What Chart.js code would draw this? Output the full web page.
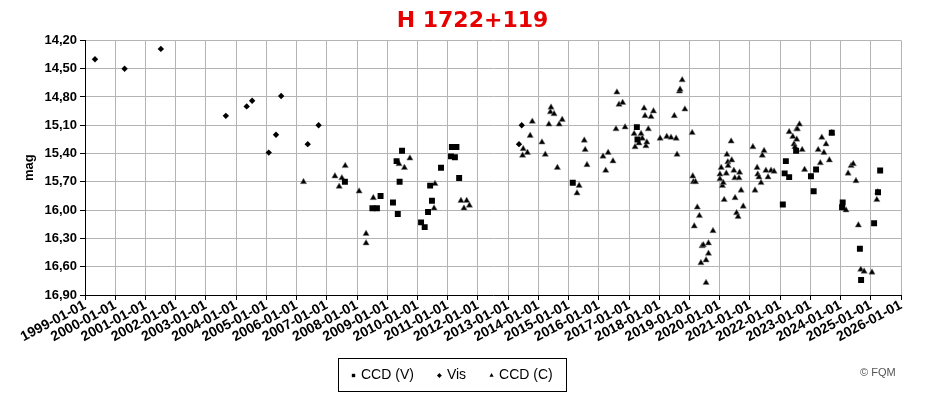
<!DOCTYPE html>
<html>
<head>
<meta charset="utf-8">
<script src="https://cdn.jsdelivr.net/npm/chart.js@4.4.1/dist/chart.umd.min.js"></script>
<style>
  html, body { margin: 0; padding: 0; background: #fff; }
  #wrap { width: 930px; height: 396px; }
</style>
</head>
<body>
<div id="wrap"><canvas id="lightCurve" width="930" height="396"></canvas></div>
<script>
// H 1722+119 — curva de luz (ano decimal, magnitude)
const YEARS = [1999, 2000, 2001, 2002, 2003, 2004, 2005, 2006, 2007, 2008, 2009, 2010, 2011, 2012,
  2013, 2014, 2015, 2016, 2017, 2018, 2019, 2020, 2021, 2022, 2023, 2024, 2025, 2026];
const MAG_TICKS = [14.2, 14.5, 14.8, 15.1, 15.4, 15.7, 16.0, 16.3, 16.6, 16.9];

const CCD_V = [
  [2007.60, 15.70], [2008.51, 15.98], [2008.66, 15.98], [2008.78, 15.85], [2009.19, 15.92],
  [2009.31, 15.48], [2009.35, 16.04], [2009.41, 15.70], [2009.49, 15.37], [2010.12, 16.13],
  [2010.24, 16.18], [2010.35, 16.02], [2010.42, 15.74], [2010.48, 15.90], [2010.78, 15.55],
  [2011.11, 15.43], [2011.14, 15.33], [2011.24, 15.44], [2011.29, 15.33], [2011.38, 15.66],
  [2015.14, 15.71], [2017.26, 15.12], [2017.28, 15.25], [2022.09, 15.94], [2022.15, 15.61],
  [2022.19, 15.48], [2022.30, 15.65], [2022.53, 15.37], [2023.02, 15.64], [2023.11, 15.80],
  [2023.19, 15.57], [2023.71, 15.18], [2024.05, 15.97], [2024.07, 15.92], [2024.64, 16.41],
  [2024.68, 16.74], [2025.11, 16.14], [2025.24, 15.81], [2025.31, 15.58]
];

const VIS = [
  [1999.33, 14.40], [2000.31, 14.50], [2001.51, 14.29], [2003.66, 15.00], [2004.35, 14.90],
  [2004.53, 14.84], [2005.08, 15.39], [2005.32, 15.20], [2005.49, 14.79], [2006.37, 15.30],
  [2006.73, 15.10], [2013.36, 15.30], [2013.45, 15.10]
];

const CCD_C = [
  [2006.23, 15.70], [2007.27, 15.64], [2007.41, 15.75], [2007.50, 15.66], [2007.61, 15.53],
  [2008.07, 15.80], [2008.30, 16.25], [2008.30, 16.35], [2008.54, 15.87], [2009.39, 15.51],
  [2009.57, 15.55], [2009.75, 15.45], [2010.55, 15.98], [2010.58, 15.72], [2011.44, 15.90],
  [2011.54, 15.98], [2011.63, 15.90], [2011.72, 15.95],
  [2013.48, 15.42], [2013.50, 15.35], [2013.64, 15.39], [2013.73, 15.21], [2013.80, 15.06],
  [2014.12, 15.28], [2014.23, 15.41], [2014.35, 15.09], [2014.40, 14.96], [2014.42, 14.91],
  [2014.52, 14.98], [2014.63, 15.55], [2014.69, 15.09], [2014.79, 15.04], [2015.28, 15.82],
  [2015.35, 15.74], [2015.52, 15.26], [2015.55, 15.36], [2015.61, 15.52], [2016.14, 15.43],
  [2016.23, 15.58], [2016.31, 15.39], [2016.47, 15.48], [2016.57, 15.14], [2016.60, 14.75],
  [2016.67, 14.88], [2016.79, 14.86], [2016.87, 15.12],
  [2017.17, 15.19], [2017.20, 15.33], [2017.33, 15.29], [2017.40, 15.19], [2017.44, 15.24],
  [2017.50, 14.92], [2017.53, 15.00], [2017.56, 15.32], [2017.59, 15.28], [2017.64, 15.14],
  [2017.73, 15.01], [2017.81, 14.95], [2018.03, 15.24], [2018.25, 15.22], [2018.39, 15.23],
  [2018.50, 15.00], [2018.56, 15.24], [2018.59, 15.41], [2018.67, 14.74], [2018.69, 14.72],
  [2018.76, 14.62], [2018.85, 14.93], [2019.09, 15.18],
  [2019.11, 15.64], [2019.13, 15.70], [2019.16, 16.17], [2019.20, 15.70], [2019.26, 15.97],
  [2019.33, 16.06], [2019.38, 16.56], [2019.42, 16.38], [2019.46, 16.37], [2019.55, 16.53],
  [2019.55, 16.77], [2019.63, 16.35], [2019.63, 16.46], [2019.78, 16.22],
  [2020.01, 15.62], [2020.01, 15.67], [2020.05, 15.55], [2020.09, 15.74], [2020.12, 15.71],
  [2020.15, 15.89], [2020.22, 15.61], [2020.24, 15.41], [2020.27, 15.49], [2020.28, 15.53],
  [2020.38, 15.27], [2020.40, 15.47], [2020.47, 15.58], [2020.50, 15.66], [2020.51, 15.87],
  [2020.56, 16.03], [2020.61, 16.07], [2020.64, 15.66], [2020.66, 15.60], [2020.71, 15.79],
  [2020.78, 15.96],
  [2021.10, 15.33], [2021.17, 15.79], [2021.24, 15.55], [2021.26, 15.62], [2021.30, 15.65],
  [2021.37, 15.71], [2021.41, 15.42], [2021.47, 15.37], [2021.53, 15.58], [2021.60, 15.65],
  [2021.70, 15.58], [2021.80, 15.59],
  [2022.30, 15.17], [2022.42, 15.22], [2022.46, 15.30], [2022.49, 15.33], [2022.55, 15.25],
  [2022.55, 15.14], [2022.57, 15.14], [2022.64, 15.09], [2022.73, 15.36], [2022.81, 15.57],
  [2023.26, 15.36], [2023.33, 15.50], [2023.38, 15.23], [2023.45, 15.39], [2023.52, 15.30],
  [2023.63, 15.47], [2023.71, 15.18],
  [2024.18, 16.00], [2024.25, 15.61], [2024.35, 15.53], [2024.42, 15.51], [2024.51, 15.69],
  [2024.59, 16.16], [2024.67, 16.63], [2024.78, 16.65], [2025.04, 16.66], [2025.20, 15.89],
  [2025.23, 15.81]
];

const toXY = arr => arr.map(([x, y]) => ({ x, y }));
const FONT = '"Liberation Sans", Arial, sans-serif';

// legenda com moldura + copyright, desenhados no canvas
const boxLegend = {
  id: 'boxLegend',
  afterDraw(chart) {
    const ctx = chart.ctx;
    ctx.save();
    ctx.font = '14px ' + FONT;
    ctx.textBaseline = 'middle';
    const items = chart.data.datasets.map(d => ({ label: d.label, style: d.pointStyle }));
    const mw = 5, gapIn = 5, gapOut = 23, pad = 13;
    let total = 0;
    items.forEach((it, i) => {
      it.w = ctx.measureText(it.label).width;
      total += mw + gapIn + it.w + (i ? gapOut : 0);
    });
    const w = Math.round(total + pad * 2), cx = 452, top = 358, h = 33;
    const left = Math.round(cx - w / 2);
    ctx.strokeStyle = '#000';
    ctx.lineWidth = 1;
    ctx.strokeRect(left + 0.5, top + 0.5, w, h);
    let x = left + pad;
    const cy = top + h / 2 + 1;
    items.forEach(it => {
      ctx.fillStyle = '#000';
      Chart.helpers.drawPoint(ctx, { pointStyle: it.style, radius: 2.4, rotation: 0, borderWidth: 0 }, x + mw / 2, cy);
      ctx.fillStyle = '#000';
      ctx.fillText(it.label, x + mw + gapIn, cy);
      x += mw + gapIn + it.w + gapOut;
    });
    ctx.font = '11px ' + FONT;
    ctx.fillStyle = '#555';
    ctx.textAlign = 'left';
    ctx.fillText('\u00a9 FQM', 860, 373);
    ctx.restore();
  }
};

new Chart(document.getElementById('lightCurve').getContext('2d'), {
  type: 'scatter',
  data: {
    datasets: [
      { label: 'CCD (V)', data: toXY(CCD_V), pointStyle: 'rect', pointRadius: 4.2,
        backgroundColor: '#000', borderColor: '#000', pointBorderWidth: 0 },
      { label: 'Vis', data: toXY(VIS), pointStyle: 'rectRot', pointRadius: 3.2,
        backgroundColor: '#000', borderColor: '#000', pointBorderWidth: 0 },
      { label: 'CCD (C)', data: toXY(CCD_C), pointStyle: 'triangle', pointRadius: 3.6,
        backgroundColor: '#000', borderColor: 'rgba(120,120,120,.55)', pointBorderWidth: 1 }
    ]
  },
  options: {
    responsive: false,
    animation: false,
    // padding esquerdo desloca o título para o centro da figura
    layout: { padding: { left: 44, right: 29, top: 0, bottom: 0 } },
    plugins: {
      legend: { display: false },
      tooltip: { enabled: false },
      title: {
        display: true,
        text: 'H 1722+119',
        color: '#e60000',
        font: { family: '"DejaVu Sans", sans-serif', size: 22, weight: 'bold' },
        padding: { top: 8, bottom: 6 }
      }
    },
    scales: {
      x: {
        type: 'linear',
        min: 1999,
        max: 2026,
        afterBuildTicks: s => { s.ticks = YEARS.map(v => ({ value: v })); },
        afterFit: s => { s.height = 101; },
        ticks: {
          autoSkip: false,
          minRotation: 28,
          maxRotation: 28,
          padding: -3,
          color: '#000',
          font: { family: FONT, size: 14, weight: 'bold' },
          callback: v => v + '-01-01'
        },
        grid: { color: '#b4b4b4', tickColor: '#000', tickLength: 5 },
        border: { color: '#000', width: 1 }
      },
      y: {
        reverse: true,
        min: 14.2,
        max: 16.9,
        afterBuildTicks: s => { s.ticks = MAG_TICKS.map(v => ({ value: v })); },
        afterFit: s => { s.width = 41; },
        ticks: {
          padding: 3,
          color: '#000',
          font: { family: FONT, size: 13, weight: 'bold' },
          callback: v => v.toFixed(2).replace('.', ',')
        },
        title: {
          display: true,
          text: 'mag',
          color: '#000',
          font: { family: FONT, size: 13, weight: 'bold' },
          padding: { top: -22, bottom: 0 }
        },
        grid: { color: '#b4b4b4', tickColor: '#000', tickLength: 5 },
        border: { color: '#000', width: 1 }
      }
    }
  },
  plugins: [boxLegend]
});
</script>
</body>
</html>
